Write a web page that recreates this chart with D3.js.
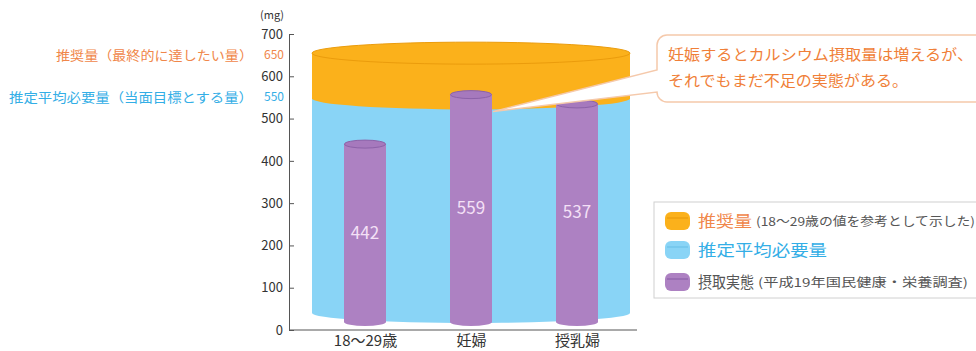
<!DOCTYPE html>
<html lang="ja">
<head>
<meta charset="utf-8">
<script src="https://cdn.jsdelivr.net/npm/d3@7/dist/d3.min.js"></script>
<style>
	body { margin: 0; background: #fff; }
	#chart { width: 976px; height: 351px; }
	text { font-family: "Noto Sans CJK JP", "Noto Sans", sans-serif; }
</style>
</head>
<body>
<div id="chart"></div>
<script>

// data
const categories = ["18～29歳", "妊婦", "授乳婦"];
const intakeValues = [442, 559, 537];
const recommendedValue = 650;
const estimatedAvgValue = 550;
const yTicks = [0, 100, 200, 300, 400, 500, 600, 700];
const unitLabel = "(mg)";
const refLabels = ["推奨量（最終的に達したい量）", "推定平均必要量（当面目標とする量）"];
const calloutLines = ["妊娠するとカルシウム摂取量は増えるが、", "それでもまだ不足の実態がある。"];
const legendMain = ["推奨量", "推定平均必要量", "摂取実態"];
const legendNote = ["(18～29歳の値を参考として示した)", "", "(平成19年国民健康・栄養調査)"];

const colors = {
	orange: "#fbb11b", orangeLine: "#eb9c0c", orangeText: "#f0874a",
	blue: "#89d4f6", blueText: "#33aee6",
	purple: "#ad81c2", purpleTop: "#a679bd", purpleLine: "#8c62a8",
	label: "#f4e0f6", axis: "#555"
};

class CalciumChart {

	constructor(parentElement) {
		this.parentElement = parentElement;
		this.initVis();
	}

	initVis() {
		let vis = this;

		vis.svg = d3.select(vis.parentElement).append("svg")
			.attr("width", 976)
			.attr("height", 351);

		// scales
		vis.y = d3.scaleLinear().domain([0, 700]).range([330, 34]);
		vis.x = d3.scalePoint().domain(categories).range([312, 630]).padding(0.5);

		vis.drawBigCylinder();
		vis.drawBars();
		vis.drawAxes();
		vis.drawRefLabels();
		vis.drawCallout();
		vis.drawLegend();
	}

	// body with a lower half ellipse arc: top line at yt, bottom arc centred at yb
	cylPath(x0, x1, yt, yb, ry) {
		let rx = (x1 - x0) / 2;
		return "M" + x0 + "," + yt + "L" + x0 + "," + yb +
			"A" + rx + "," + ry + " 0 0 0 " + x1 + "," + yb +
			"L" + x1 + "," + yt + "Z";
	}

	drawBigCylinder() {
		let vis = this;
		let x0 = 312, x1 = 630;
		let cx = (x0 + x1) / 2, rx = (x1 - x0) / 2;
		let yTop = vis.y(recommendedValue) - 2;
		let yMid = vis.y(estimatedAvgValue) + 1;
		let yBot = vis.y(0) - 17;

		vis.svg.append("path")
			.attr("d", vis.cylPath(x0, x1, yTop, yBot, 10))
			.attr("fill", colors.blue);

		vis.svg.append("path")
			.attr("d", vis.cylPath(x0, x1, yTop, yMid, 11))
			.attr("fill", colors.orange);

		vis.svg.append("ellipse")
			.attr("cx", cx).attr("cy", yTop)
			.attr("rx", rx).attr("ry", 11)
			.attr("fill", colors.orange)
			.attr("stroke", colors.orangeLine)
			.attr("stroke-width", 1);
	}

	drawBars() {
		let vis = this;
		let w = 42, ry = 4;
		let yBot = vis.y(0) - 8;

		let g = vis.svg.selectAll(".bar")
			.data(intakeValues)
			.enter().append("g")
			.attr("class", "bar");

		g.append("path")
			.attr("d", (d, i) => {
				let cx = vis.x(categories[i]);
				return vis.cylPath(cx - w / 2, cx + w / 2, vis.y(d) + 1, yBot, ry);
			})
			.attr("fill", colors.purple);

		g.append("ellipse")
			.attr("cx", (d, i) => vis.x(categories[i]))
			.attr("cy", d => vis.y(d) + 1)
			.attr("rx", w / 2 - 0.5).attr("ry", ry)
			.attr("fill", colors.purpleTop)
			.attr("stroke", colors.purpleLine)
			.attr("stroke-width", 1);

		g.append("text")
			.attr("x", (d, i) => vis.x(categories[i]))
			.attr("y", d => (vis.y(d) + yBot) / 2 + 6)
			.attr("text-anchor", "middle")
			.attr("fill", colors.label)
			.attr("font-size", 17)
			.text(d => d);
	}

	drawAxes() {
		let vis = this;

		let yAxis = d3.axisLeft(vis.y)
			.tickValues(yTicks)
			.tickSize(-5)
			.tickSizeOuter(0)
			.tickPadding(6);

		let yG = vis.svg.append("g")
			.attr("transform", "translate(289,0)")
			.call(yAxis);
		yG.selectAll("path, line").attr("stroke", colors.axis);
		yG.selectAll("text")
			.attr("font-size", 13)
			.attr("font-family", "'Noto Sans', sans-serif")
			.attr("fill", "#333");

		vis.svg.append("text")
			.attr("x", 284).attr("y", 19)
			.attr("text-anchor", "end")
			.attr("font-size", 11)
			.attr("fill", "#333")
			.text(unitLabel);

		// baseline
		vis.svg.append("line")
			.attr("x1", 289).attr("x2", 637)
			.attr("y1", vis.y(0)).attr("y2", vis.y(0))
			.attr("stroke", colors.axis);

		let xG = vis.svg.append("g")
			.attr("transform", "translate(0," + vis.y(0) + ")")
			.call(d3.axisBottom(vis.x).tickSize(0).tickPadding(5));
		xG.select(".domain").remove();
		xG.selectAll("text")
			.attr("font-size", 15)
			.attr("font-family", "'Noto Sans CJK JP', sans-serif")
			.attr("fill", "#333");
	}

	drawRefLabels() {
		let vis = this;
		let refs = [
			{text: refLabels[0], value: recommendedValue, color: colors.orangeText, len: 197},
			{text: refLabels[1], value: estimatedAvgValue, color: colors.blueText, len: 244}
		];

		refs.forEach(function(r) {
			vis.svg.append("text")
				.attr("x", 253).attr("y", vis.y(r.value) + 5)
				.attr("text-anchor", "end")
				.attr("font-size", 13)
				.attr("fill", r.color)
				.attr("textLength", r.len)
				.attr("lengthAdjust", "spacingAndGlyphs")
				.text(r.text);
			vis.svg.append("text")
				.attr("x", 284).attr("y", vis.y(r.value) + 4)
				.attr("text-anchor", "end")
				.attr("font-size", 12)
				.attr("fill", r.color)
				.text(r.value);
		});
	}

	drawCallout() {
		let vis = this;
		let left = 657, top = 35, bottom = 102, right = 995, r = 10;
		let tip = [vis.x(categories[1]) + 22, vis.y(intakeValues[1]) + 18];

		let p = d3.path();
		p.moveTo(left + r, top);
		p.lineTo(right, top);
		p.lineTo(right, bottom);
		p.lineTo(left + r, bottom);
		p.arcTo(left, bottom, left, bottom - r, r);
		p.lineTo(left, 92);
		p.lineTo(tip[0], tip[1]);
		p.lineTo(left, 70);
		p.lineTo(left, top + r);
		p.arcTo(left, top, left + r, top, r);
		p.closePath();

		vis.svg.append("path")
			.attr("d", p.toString())
			.attr("fill", "#fff")
			.attr("stroke", "#f5c9ab")
			.attr("stroke-width", 1.5);

		vis.svg.selectAll(".callout")
			.data(calloutLines)
			.enter().append("text")
			.attr("class", "callout")
			.attr("x", 668)
			.attr("y", (d, i) => 60 + i * 26)
			.attr("font-size", 15)
			.attr("fill", "#f07f38")
			.attr("textLength", (d, i) => i === 0 ? 305 : 240)
			.attr("lengthAdjust", "spacingAndGlyphs")
			.text(d => d);
	}

	drawLegend() {
		let vis = this;
		let rowY = [221, 250, 282];
		let swatchFill = [colors.orange, colors.blue, colors.purple];
		let swatchLine = [colors.orangeLine, "#6cc2ea", colors.purpleLine];
		let mainColor = [colors.orangeText, colors.blueText, "#555"];
		let mainLen = [54, 129, 56];
		let noteLen = [219, 0, 210];

		vis.svg.append("rect")
			.attr("x", 654).attr("y", 202)
			.attr("width", 340).attr("height", 96)
			.attr("fill", "#fff")
			.attr("stroke", "#d0d0d0");

		let rows = vis.svg.selectAll(".legend-row")
			.data(legendMain)
			.enter().append("g")
			.attr("class", "legend-row")
			.attr("transform", (d, i) => "translate(0," + rowY[i] + ")");

		rows.append("rect")
			.attr("x", 665).attr("y", -9)
			.attr("width", 25).attr("height", 18)
			.attr("rx", 6)
			.attr("fill", (d, i) => swatchFill[i]);

		rows.append("line")
			.attr("x1", 667).attr("x2", 688)
			.attr("y1", -3).attr("y2", -3)
			.attr("stroke", (d, i) => swatchLine[i])
			.attr("stroke-width", 1.2);

		rows.append("text")
			.attr("x", 698).attr("y", 6)
			.attr("font-size", 16)
			.attr("fill", (d, i) => mainColor[i])
			.attr("textLength", (d, i) => mainLen[i])
			.attr("lengthAdjust", "spacingAndGlyphs")
			.text(d => d);

		// small notes after the main legend text
		rows.each(function(d, i) {
			if (legendNote[i] === "") return;
			d3.select(this).append("text")
				.attr("x", 698 + mainLen[i] + 4)
				.attr("y", 5)
				.attr("font-size", 12)
				.attr("fill", "#555")
				.attr("textLength", noteLen[i])
				.attr("lengthAdjust", "spacingAndGlyphs")
				.text(legendNote[i]);
		});
	}
}

new CalciumChart(document.getElementById("chart"));

</script>
</body>
</html>
